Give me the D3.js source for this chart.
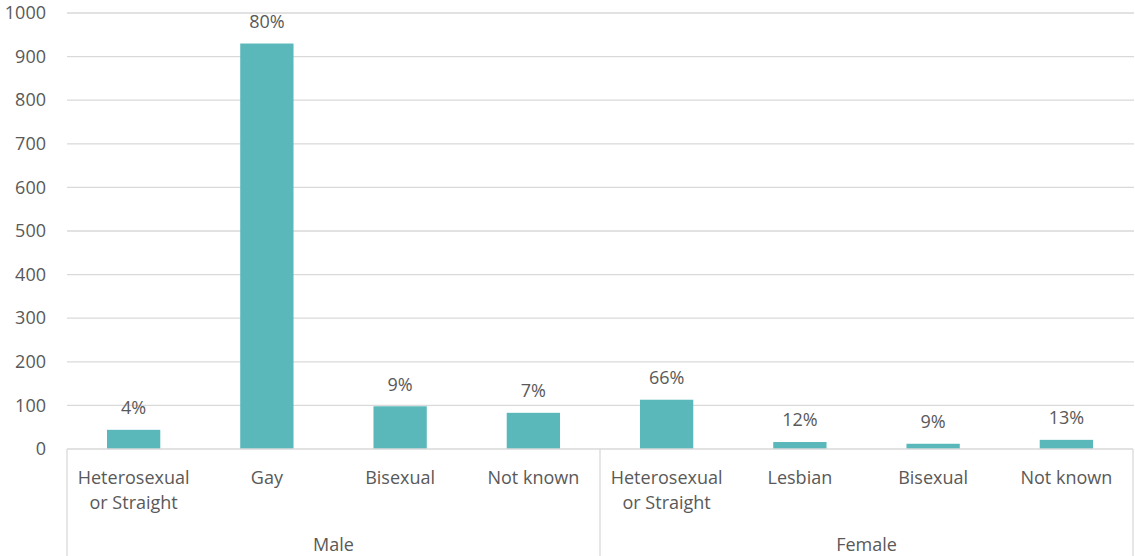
<!DOCTYPE html>
<html>
<head>
<meta charset="utf-8">
<script src="https://cdn.jsdelivr.net/npm/d3@7"></script>
<style>
  html, body { margin: 0; padding: 0; background: #ffffff; }
  svg { display: block; }
  text { font-family: "Open Sans", "Liberation Sans", sans-serif; fill: #595959; }
</style>
</head>
<body>
<svg id="chart" width="1135" height="556"></svg>
<script>
// Counts by sexual orientation within each sex
const categories = [
  ["Heterosexual", "or Straight"], ["Gay"], ["Bisexual"], ["Not known"],
  ["Heterosexual", "or Straight"], ["Lesbian"], ["Bisexual"], ["Not known"]
];
const groups = ["Male", "Female"];
const values = [44, 930, 98, 83, 113, 16, 12, 21];
const percentLabels = ["4%", "80%", "9%", "7%", "66%", "12%", "9%", "13%"];
const yTicks = [0, 100, 200, 300, 400, 500, 600, 700, 800, 900, 1000];

const svg = d3.select("#chart");
const plotLeft = 67, plotRight = 1133, plotTop = 13, plotBase = 449, plotBottom = 556;
const fontSize = 18;

const x = d3.scaleBand()
  .domain(d3.range(categories.length))
  .range([plotLeft, plotRight])
  .paddingInner(0.6)
  .paddingOuter(0.3);

const y = d3.scaleLinear().domain([0, 1000]).range([plotBase, plotTop]);

// Horizontal gridlines
svg.append("g")
  .selectAll("line")
  .data(yTicks.filter(d => d > 0))
  .join("line")
  .attr("x1", plotLeft).attr("x2", plotRight + 1)
  .attr("y1", d => y(d)).attr("y2", d => y(d))
  .attr("stroke", "#d9d9d9").attr("stroke-width", 1.3);

// Value axis labels
const yAxis = d3.axisLeft(y).tickValues(yTicks).tickFormat(d3.format("d")).tickSize(0).tickPadding(0);
const ya = svg.append("g").attr("transform", `translate(${plotLeft - 21},0)`).call(yAxis);
ya.select(".domain").remove();
ya.selectAll("text")
  .attr("font-size", fontSize)
  .attr("font-family", "'Open Sans', 'Liberation Sans', sans-serif")
  .attr("fill", "#595959");

// Bars
svg.append("g")
  .selectAll("rect")
  .data(values)
  .join("rect")
  .attr("x", (d, i) => x(i))
  .attr("width", x.bandwidth())
  .attr("y", d => y(d))
  .attr("height", d => y(0) - y(d))
  .attr("fill", "#5ab8bb");

// Percentage labels above bars
svg.append("g")
  .selectAll("text")
  .data(values)
  .join("text")
  .attr("x", (d, i) => x(i) + x.bandwidth() / 2)
  .attr("y", d => y(d) - 22)
  .attr("dy", "0.35em")
  .attr("text-anchor", "middle")
  .attr("font-size", fontSize)
  .text((d, i) => percentLabels[i]);

// Category axis frame: baseline and group dividers
svg.append("line")
  .attr("x1", plotLeft).attr("x2", plotRight)
  .attr("y1", plotBase).attr("y2", plotBase)
  .attr("stroke", "#d9d9d9").attr("stroke-width", 1.3);

const dividers = [0, 4, 8].map(i => plotLeft + i * (plotRight - plotLeft) / categories.length);
svg.append("g")
  .selectAll("line")
  .data(dividers)
  .join("line")
  .attr("x1", d => d).attr("x2", d => d)
  .attr("y1", plotBase).attr("y2", plotBottom)
  .attr("stroke", "#d9d9d9").attr("stroke-width", 1.3);

// Category labels (may wrap to two lines)
const cat = svg.append("g")
  .selectAll("text")
  .data(categories)
  .join("text")
  .attr("text-anchor", "middle")
  .attr("font-size", fontSize)
  .attr("x", (d, i) => x(i) + x.bandwidth() / 2)
  .attr("y", 478);
cat.selectAll("tspan")
  .data(d => d)
  .join("tspan")
  .attr("x", function () { return d3.select(this.parentNode).attr("x"); })
  .attr("dy", (d, j) => j === 0 ? "0.35em" : 25)
  .text(d => d);

// Group labels
svg.append("g")
  .selectAll("text")
  .data(groups)
  .join("text")
  .attr("text-anchor", "middle")
  .attr("font-size", fontSize)
  .attr("x", (d, gi) => (dividers[gi] + dividers[gi + 1]) / 2)
  .attr("y", 545)
  .attr("dy", "0.35em")
  .text(d => d);
</script>
</body>
</html>
